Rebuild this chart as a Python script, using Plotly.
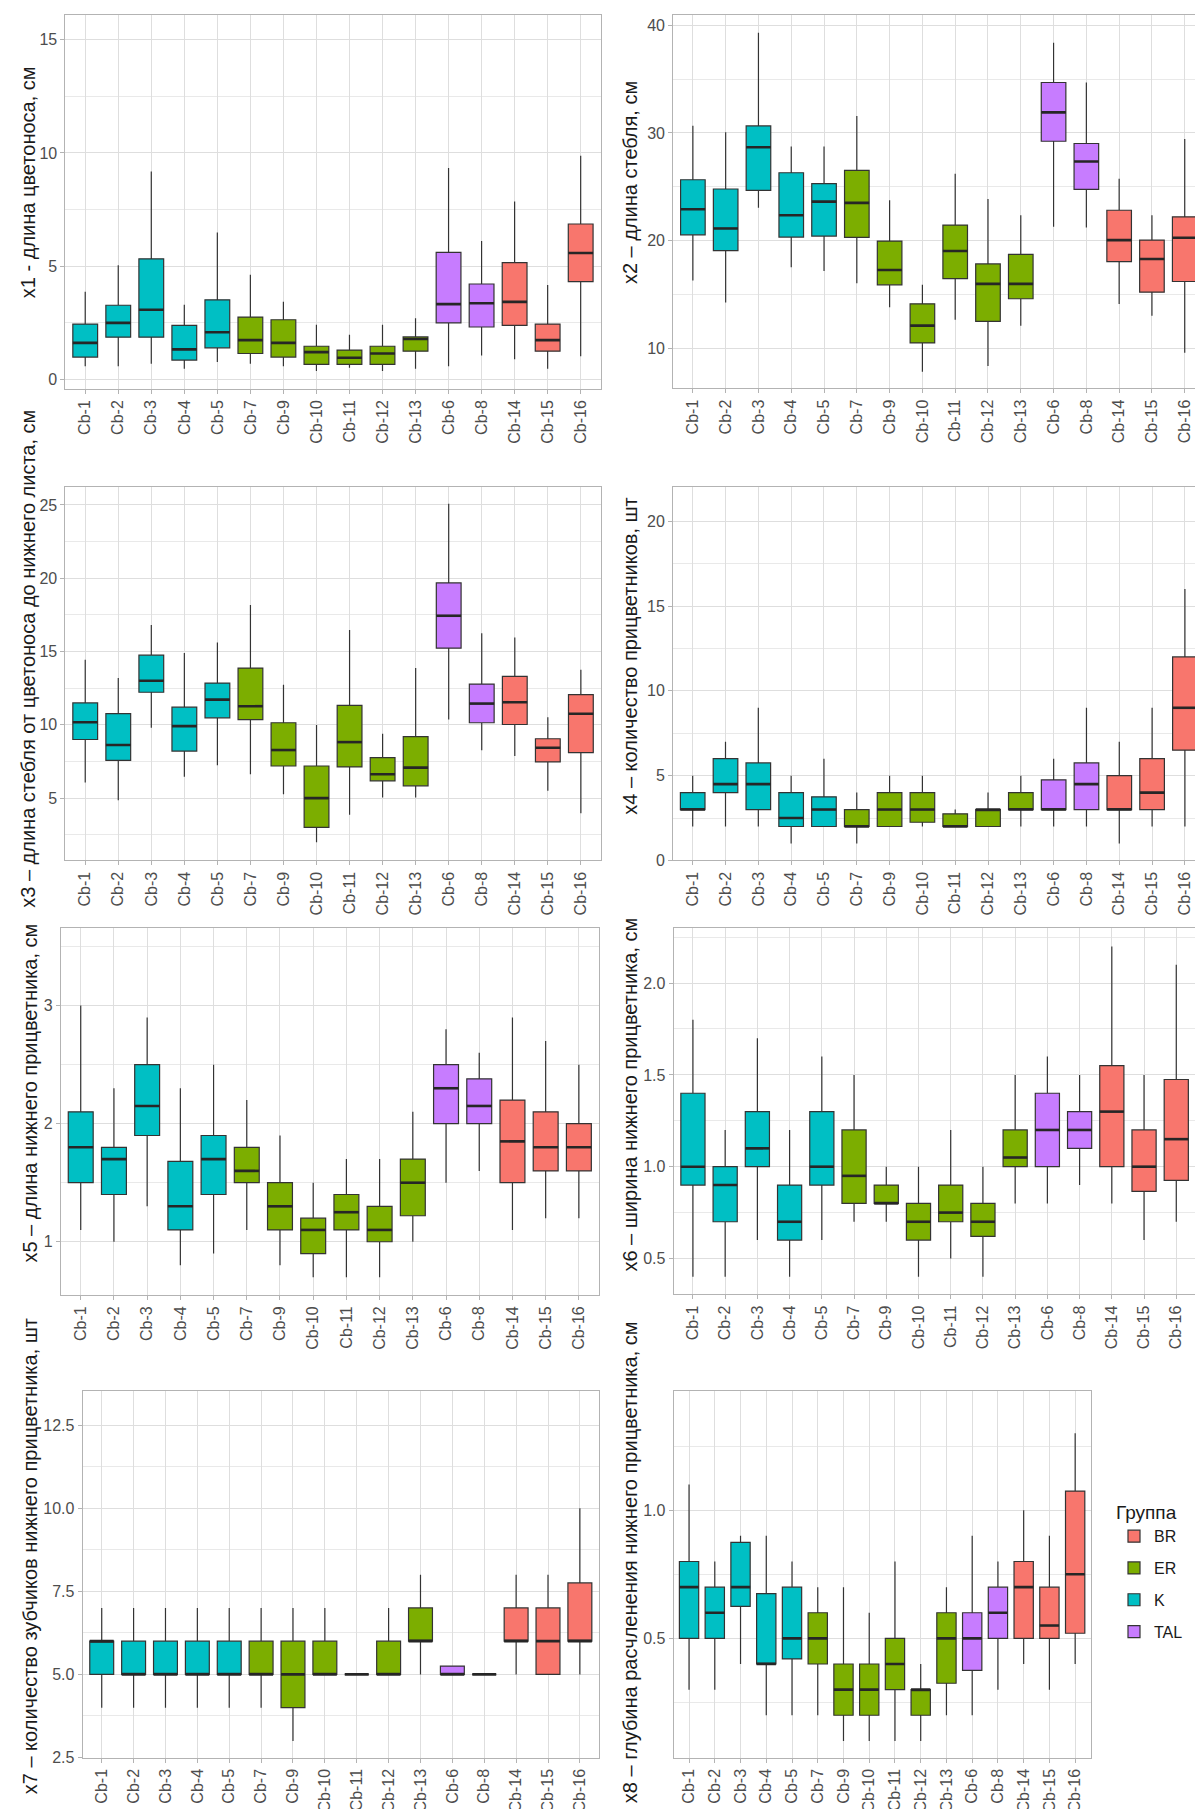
import plotly.graph_objects as go

# ---------------- data ----------------
categories = ["Cb-1", "Cb-2", "Cb-3", "Cb-4", "Cb-5", "Cb-7", "Cb-9", "Cb-10",
              "Cb-11", "Cb-12", "Cb-13", "Cb-6", "Cb-8", "Cb-14", "Cb-15", "Cb-16"]
groups = ["K", "K", "K", "K", "K", "ER", "ER", "ER", "ER", "ER", "ER",
          "TAL", "TAL", "BR", "BR", "BR"]
group_order = ["BR", "ER", "K", "TAL"]
group_colors = {"BR": "#F8766D", "ER": "#7CAE00", "K": "#00BFC4", "TAL": "#C77CFF"}

x1_lo = [0.58, 0.58, 0.69, 0.47, 0.76, 0.69, 0.58, 0.37, 0.51, 0.37, 0.47, 0.58, 1.05, 0.88, 0.47, 1.02]
x1_q1 = [0.98, 1.86, 1.86, 0.85, 1.39, 1.14, 0.98, 0.66, 0.66, 0.66, 1.24, 2.49, 2.31, 2.38, 1.24, 4.31]
x1_med = [1.61, 2.49, 3.07, 1.32, 2.08, 1.73, 1.61, 1.20, 0.95, 1.14, 1.78, 3.32, 3.36, 3.42, 1.73, 5.58]
x1_q3 = [2.44, 3.27, 5.32, 2.38, 3.51, 2.75, 2.63, 1.46, 1.29, 1.46, 1.87, 5.61, 4.21, 5.15, 2.44, 6.86]
x1_hi = [3.87, 5.04, 9.18, 3.29, 6.48, 4.62, 3.42, 2.41, 1.97, 2.41, 2.70, 9.33, 6.11, 7.85, 4.17, 9.87]

x2_lo = [16.31, 14.28, 23.05, 17.54, 17.2, 16.06, 13.82, 7.85, 12.68, 8.37, 12.12, 21.29, 21.23, 14.12, 13.05, 9.6]
x2_q1 = [20.55, 19.08, 24.68, 20.34, 20.43, 20.31, 15.91, 10.52, 16.49, 12.52, 14.62, 29.23, 24.77, 18.06, 15.23, 16.22]
x2_med = [22.92, 21.14, 28.68, 22.37, 23.63, 23.51, 17.29, 12.12, 19.05, 16.0, 16.0, 31.91, 27.35, 20.06, 18.31, 20.28]
x2_q3 = [25.66, 24.8, 30.65, 26.31, 25.29, 26.52, 19.97, 14.15, 21.45, 17.85, 18.74, 34.68, 29.02, 22.83, 20.06, 22.22]
x2_hi = [30.68, 30.06, 39.29, 28.74, 28.74, 31.57, 23.75, 15.91, 26.22, 23.88, 22.37, 38.37, 34.68, 25.75, 22.37, 29.45]

x3_lo = [6.06, 4.86, 9.8, 6.45, 7.24, 6.63, 5.27, 1.99, 3.87, 5.05, 5.05, 10.36, 8.26, 7.87, 5.5, 3.96]
x3_q1 = [9.0, 7.58, 12.22, 8.21, 10.48, 10.36, 7.19, 3.01, 7.13, 6.18, 5.84, 15.23, 10.14, 10.02, 7.47, 8.1]
x3_med = [10.18, 8.62, 13.01, 9.91, 11.72, 11.27, 8.28, 5.0, 8.82, 6.63, 7.08, 17.44, 11.45, 11.54, 8.44, 10.75]
x3_q3 = [11.49, 10.77, 14.75, 11.2, 12.85, 13.87, 10.14, 7.19, 11.33, 7.76, 9.19, 19.68, 12.78, 13.3, 9.05, 12.06]
x3_hi = [14.43, 13.19, 16.81, 14.89, 15.61, 18.17, 12.74, 9.98, 16.47, 9.39, 13.87, 25.07, 16.24, 15.95, 10.52, 13.76]

x4_lo = [2, 2, 2, 1, 2, 1, 2, 2, 2, 2, 2, 2, 2, 1, 2, 2]
x4_q1 = [3, 4, 3, 2, 2, 2, 2, 2.25, 2, 2, 3, 3, 3, 3, 3, 6.5]
x4_med = [3, 4.5, 4.5, 2.5, 3, 2, 3, 3, 2, 3, 3, 3, 4.5, 3, 4, 9]
x4_q3 = [4, 6, 5.75, 4, 3.75, 3, 4, 4, 2.75, 3, 4, 4.75, 5.75, 5, 6, 12]
x4_hi = [5, 7, 9, 5, 6, 4, 5, 5, 3, 4, 5, 6, 9, 7, 9, 16]

x5_lo = [1.1, 1.0, 1.3, 0.8, 0.9, 1.1, 0.8, 0.7, 0.7, 0.7, 1.0, 1.5, 1.6, 1.1, 1.2, 1.2]
x5_q1 = [1.5, 1.4, 1.9, 1.1, 1.4, 1.5, 1.1, 0.9, 1.1, 1.0, 1.22, 2.0, 2.0, 1.5, 1.6, 1.6]
x5_med = [1.8, 1.7, 2.15, 1.3, 1.7, 1.6, 1.3, 1.1, 1.25, 1.1, 1.5, 2.3, 2.15, 1.85, 1.8, 1.8]
x5_q3 = [2.1, 1.8, 2.5, 1.68, 1.9, 1.8, 1.5, 1.2, 1.4, 1.3, 1.7, 2.5, 2.38, 2.2, 2.1, 2.0]
x5_hi = [3.0, 2.3, 2.9, 2.3, 2.5, 2.2, 1.9, 1.5, 1.7, 1.7, 2.1, 2.8, 2.6, 2.9, 2.7, 2.5]

x6_lo = [0.4, 0.4, 0.6, 0.4, 0.6, 0.7, 0.7, 0.4, 0.5, 0.4, 0.8, 0.8, 0.9, 0.8, 0.6, 0.7]
x6_q1 = [0.9, 0.7, 1.0, 0.6, 0.9, 0.8, 0.8, 0.6, 0.7, 0.62, 1.0, 1.0, 1.1, 1.0, 0.865, 0.925]
x6_med = [1.0, 0.9, 1.1, 0.7, 1.0, 0.95, 0.8, 0.7, 0.75, 0.7, 1.05, 1.2, 1.2, 1.3, 1.0, 1.15]
x6_q3 = [1.4, 1.0, 1.3, 0.9, 1.3, 1.2, 0.9, 0.8, 0.9, 0.8, 1.2, 1.4, 1.3, 1.55, 1.2, 1.475]
x6_hi = [1.8, 1.2, 1.7, 1.2, 1.6, 1.5, 1.0, 1.0, 1.2, 1.0, 1.5, 1.6, 1.5, 2.2, 1.5, 2.1]

x7_lo = [4, 4, 4, 4, 4, 4, 3, 5, 5, 5, 5, 5, 5, 5, 5, 5]
x7_q1 = [5, 5, 5, 5, 5, 5, 4, 5, 5, 5, 6, 5, 5, 6, 5, 6]
x7_med = [6, 5, 5, 5, 5, 5, 5, 5, 5, 5, 6, 5, 5, 6, 6, 6]
x7_q3 = [6, 6, 6, 6, 6, 6, 6, 6, 5, 6, 7, 5.25, 5, 7, 7, 7.75]
x7_hi = [7, 7, 7, 7, 7, 7, 7, 7, 5, 7, 8, 5.25, 5, 8, 8, 10]

x8_lo = [0.3, 0.3, 0.4, 0.2, 0.2, 0.2, 0.1, 0.1, 0.1, 0.1, 0.2, 0.2, 0.3, 0.4, 0.3, 0.4]
x8_q1 = [0.5, 0.5, 0.625, 0.4, 0.42, 0.4, 0.2, 0.2, 0.3, 0.2, 0.325, 0.375, 0.5, 0.5, 0.5, 0.52]
x8_med = [0.7, 0.6, 0.7, 0.4, 0.5, 0.5, 0.3, 0.3, 0.4, 0.3, 0.5, 0.5, 0.6, 0.7, 0.55, 0.75]
x8_q3 = [0.8, 0.7, 0.875, 0.675, 0.7, 0.6, 0.4, 0.4, 0.5, 0.3, 0.6, 0.6, 0.7, 0.8, 0.7, 1.075]
x8_hi = [1.1, 0.8, 0.9, 0.9, 0.8, 0.7, 0.7, 0.6, 0.8, 0.4, 0.7, 0.9, 0.8, 1.0, 0.9, 1.3]

titles = [
    "x1 - длина цветоноса, см",
    "x2 – длина стебля, см",
    "x3 – длина стебля от цветоноса до нижнего листа, см",
    "x4 – количество прицветников, шт",
    "x5 – длина нижнего прицветника, см",
    "x6 – ширина нижнего прицветника, см",
    "x7 – количество зубчиков нижнего прицветника, шт",
    "x8 – глубина расчленения нижнего прицветника, см",
]
y_major = [[0, 5, 10, 15], [10, 20, 30, 40], [5, 10, 15, 20, 25], [0, 5, 10, 15, 20],
           [1, 2, 3], [0.5, 1.0, 1.5, 2.0], [2.5, 5.0, 7.5, 10.0, 12.5], [0.5, 1.0]]
y_major_text = [["0", "5", "10", "15"], ["10", "20", "30", "40"], ["5", "10", "15", "20", "25"],
                ["0", "5", "10", "15", "20"], ["1", "2", "3"], ["0.5", "1.0", "1.5", "2.0"],
                ["2.5", "5.0", "7.5", "10.0", "12.5"], ["0.5", "1.0"]]
y_minor = [[2.5, 7.5, 12.5], [15, 25, 35], [2.5, 7.5, 12.5, 17.5, 22.5], [2.5, 7.5, 12.5, 17.5],
           [1.5, 2.5, 3.5], [0.75, 1.25, 1.75, 2.25], [3.75, 6.25, 8.75, 11.25], [0.25, 0.75, 1.25]]

stats = [
    (x1_lo, x1_q1, x1_med, x1_q3, x1_hi),
    (x2_lo, x2_q1, x2_med, x2_q3, x2_hi),
    (x3_lo, x3_q1, x3_med, x3_q3, x3_hi),
    (x4_lo, x4_q1, x4_med, x4_q3, x4_hi),
    (x5_lo, x5_q1, x5_med, x5_q3, x5_hi),
    (x6_lo, x6_q1, x6_med, x6_q3, x6_hi),
    (x7_lo, x7_q1, x7_med, x7_q3, x7_hi),
    (x8_lo, x8_q1, x8_med, x8_q3, x8_hi),
]

# ---------------- layout geometry (pixels) ----------------
W, H = 1203, 1809
panel_px = [  # x0, x1, y_top, y_bottom
    (57.4, 592.5, 7.3, 382.7),
    (665.2, 1196.4, 7.3, 382.2),
    (57.4, 592.7, 481.7, 856.7),
    (665.0, 1196.6, 481.7, 856.7),
    (52.8, 590.8, 925.0, 1293.3),
    (665.6, 1187.6, 925.0, 1292.7),
    (74.6, 591.0, 1390.0, 1758.3),
    (665.6, 1082.6, 1390.0, 1758.3),
]
y_ranges = [(-0.42, 16.08), (6.31, 40.92), (0.75, 26.2), (0.0, 22.0),
            (0.55, 3.654), (0.305, 2.298), (2.5, 13.52), (0.035, 1.465)]
title_pos = [(20, 175), (622, 176), (20, 654), (622, 651),
             (22, 1091), (622, 1092), (22, 1556), (622, 1562)]

FONT = "Liberation Sans, Arial, sans-serif"
EDGE = "#333333"
BOXW = 0.75

fig = go.Figure()
layout = dict(
    width=W, height=H, margin=dict(l=0, r=0, t=0, b=0),
    paper_bgcolor="white", plot_bgcolor="white",
    font=dict(family=FONT, size=16, color="#4D4D4D"),
    boxmode="overlay", showlegend=True,
)
annotations = []
xpos = list(range(len(categories)))

for p in range(8):
    n = p + 1
    xa = "x" if n == 1 else f"x{n}"
    ya = "y" if n == 1 else f"y{n}"
    lo, q1, med, q3, hi = stats[p]
    for g in group_order:
        idx = [i for i, gg in enumerate(groups) if gg == g]
        fig.add_trace(go.Box(
            x=[xpos[i] for i in idx],
            q1=[q1[i] for i in idx], median=[med[i] for i in idx], q3=[q3[i] for i in idx],
            lowerfence=[lo[i] for i in idx], upperfence=[hi[i] for i in idx],
            width=BOXW, whiskerwidth=0,
            fillcolor=group_colors[g], line=dict(color=EDGE, width=1.2),
            name=g, legendgroup=g, showlegend=(p == 7),
            legendrank={"BR": 1, "ER": 2, "K": 3, "TAL": 4}[g],
            boxpoints=False, hoverinfo="skip",
            xaxis=xa, yaxis=ya,
        ))
    # thicker median segments (ggplot style)
    mx, my = [], []
    for i in xpos:
        mx += [i - BOXW / 2, i + BOXW / 2, None]
        my += [med[i], med[i], None]
    fig.add_trace(go.Scatter(x=mx, y=my, mode="lines", line=dict(color="#262626", width=2.6),
                             showlegend=False, hoverinfo="skip", xaxis=xa, yaxis=ya))

    x0, x1, yt, yb = panel_px[p]
    key = "" if n == 1 else str(n)
    layout["xaxis" + key] = dict(
        domain=[x0 / W, x1 / W], anchor=ya, range=[-0.6, 15.6],
        tickmode="array", tickvals=xpos, ticktext=categories, tickangle=-90,
        ticks="outside", ticklen=4, tickcolor="#B3B3B3", tickwidth=1,
        showgrid=True, gridcolor="#DEDEDE", gridwidth=1, zeroline=False,
        showline=True, mirror=True, linecolor="#B3B3B3", linewidth=1,
        tickfont=dict(family=FONT, size=16, color="#4D4D4D"),
    )
    layout["yaxis" + key] = dict(
        domain=[1 - yb / H, 1 - yt / H], anchor=xa, range=list(y_ranges[p]),
        tickmode="array", tickvals=y_major[p], ticktext=y_major_text[p],
        ticks="outside", ticklen=4, tickcolor="#B3B3B3", tickwidth=1,
        showgrid=True, gridcolor="#DEDEDE", gridwidth=1, zeroline=False,
        showline=True, mirror=True, linecolor="#B3B3B3", linewidth=1,
        tickfont=dict(family=FONT, size=16, color="#4D4D4D"),
        minor=dict(tickmode="array", tickvals=y_minor[p], showgrid=True,
                   gridcolor="#E9E9E9", gridwidth=1, ticks=""),
    )
    tx, ty = title_pos[p]
    annotations.append(dict(
        text=titles[p], xref="paper", yref="paper", x=tx / W, y=1 - ty / H,
        xanchor="center", yanchor="middle", textangle=-90, showarrow=False,
        font=dict(family=FONT, size=20, color="#1A1A1A"),
    ))

layout["annotations"] = annotations
layout["legend"] = dict(
    x=1106 / W, y=1 - 1494 / H, xanchor="left", yanchor="top",
    title=dict(text="Группа", font=dict(family=FONT, size=19, color="#1A1A1A")),
    font=dict(family=FONT, size=16, color="#1A1A1A"),
    bgcolor="rgba(0,0,0,0)", tracegroupgap=8, itemwidth=30,
)
fig.update_layout(**layout)
fig.write_html("out.html")
